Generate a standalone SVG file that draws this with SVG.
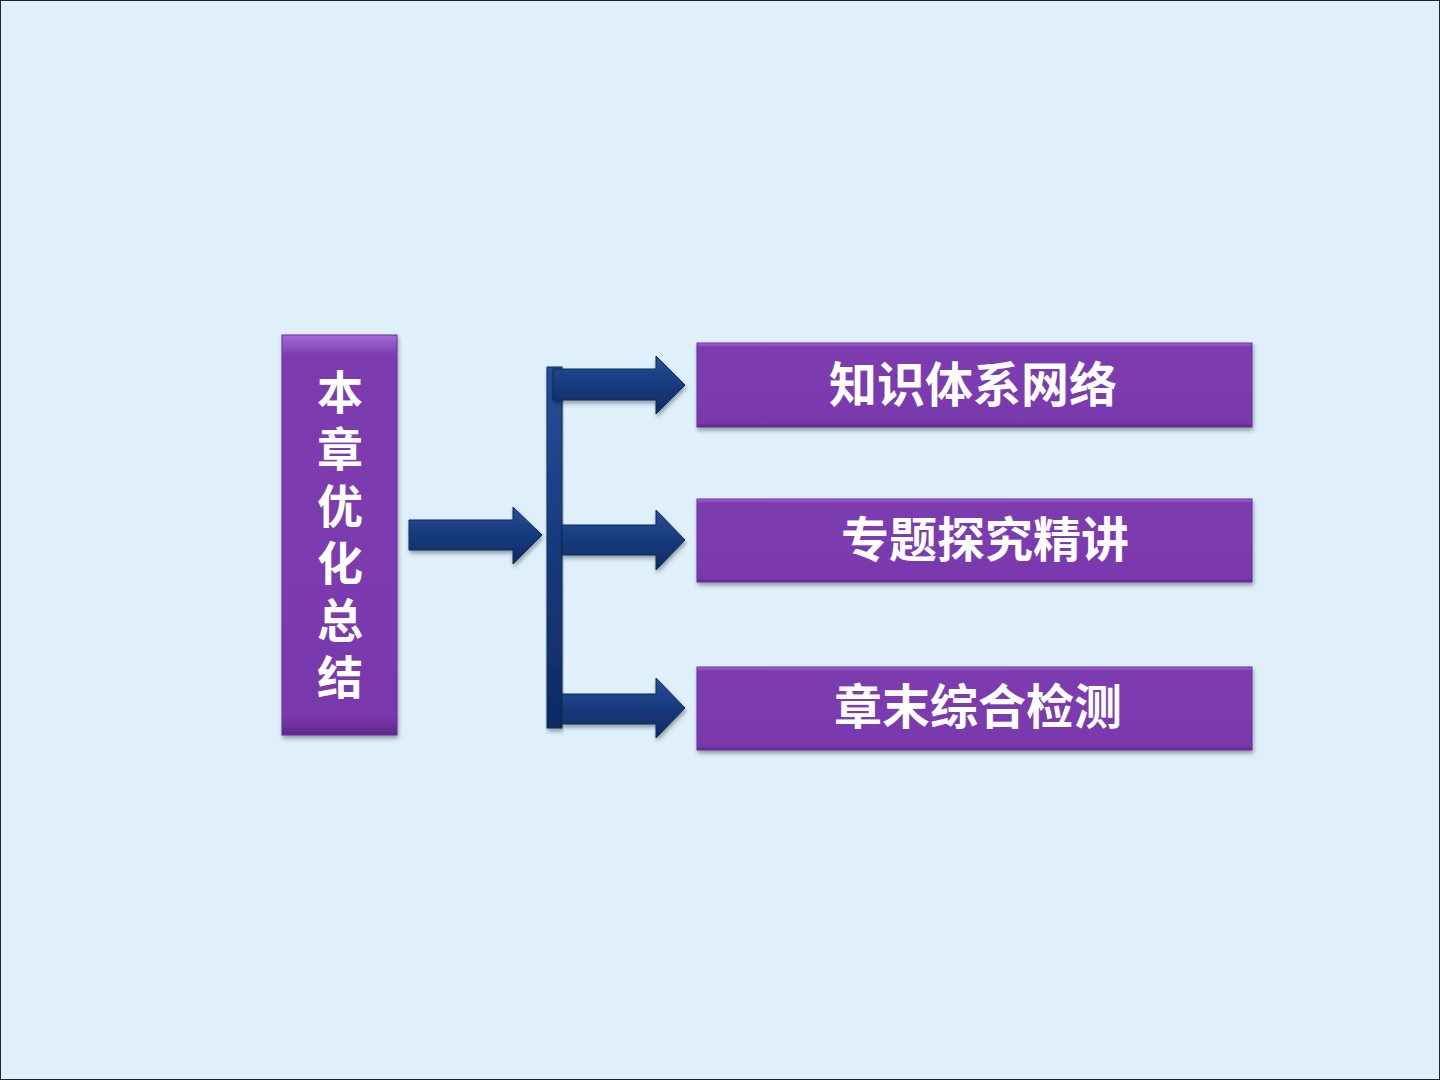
<svg xmlns="http://www.w3.org/2000/svg" width="1440" height="1080" viewBox="0 0 1440 1080">
<defs>
<style>
.box{fill:url(#pg);stroke:#6a2c9c;stroke-width:1;filter:url(#sh)}
.lbl{font-family:"Noto Sans CJK SC","Noto Sans",sans-serif;font-weight:bold;fill:#fff;text-anchor:middle}
.vert{writing-mode:vertical-rl;text-anchor:start;letter-spacing:11px}
.arr{fill:url(#ag);stroke:#0d2a5e;stroke-width:1;filter:url(#sh)}
</style>
<linearGradient id="pg" x1="0" y1="0" x2="0" y2="1">
<stop offset="0" stop-color="#a56bd6"/>
<stop offset="0.05" stop-color="#7d3bb0"/>
<stop offset="0.95" stop-color="#7a39ad"/>
<stop offset="1" stop-color="#5f2a8c"/>
</linearGradient>
<linearGradient id="ag" x1="0" y1="0" x2="0" y2="1">
<stop offset="0" stop-color="#2a4d96"/>
<stop offset="0.5" stop-color="#173a7d"/>
<stop offset="1" stop-color="#0e2a63"/>
</linearGradient>
<filter id="sh" x="-10%" y="-10%" width="120%" height="130%">
<feDropShadow dx="1" dy="3" stdDeviation="2" flood-color="#000" flood-opacity="0.35"/>
</filter>
</defs>
<rect x="0" y="0" width="1440" height="1080" fill="#dff0fa"/>
<rect x="0.5" y="0.5" width="1439" height="1079" fill="none" stroke="#1a2433" stroke-width="1"/>
<g id="connectors">
<path class="arr" d="M409,520 H513 V507 L542,535 L513,564 V550 H409 Z"/>
<rect class="arr" x="547" y="367" width="15" height="361"/>
<path class="arr" d="M553,369 H656 V356 L685,385 L656,414 V400 H553 Z"/>
<path class="arr" d="M562,525 H656 V510 L685,540 L656,570 V555 H562 Z"/>
<path class="arr" d="M562,694 H656 V678 L685,708 L656,738 V724 H562 Z"/>
</g>
<g id="node-left">
<rect class="box" x="282" y="335" width="115" height="400"/>
<text class="lbl vert" font-size="46" x="340" y="369">本章优化总结</text>
</g>
<g id="node-1">
<rect class="box" x="697" y="343" width="555" height="84"/>
<text class="lbl" font-size="48" x="973" y="402">知识体系网络</text>
</g>
<g id="node-2">
<rect class="box" x="697" y="499" width="555" height="83"/>
<text class="lbl" font-size="48" x="985" y="557">专题探究精讲</text>
</g>
<g id="node-3">
<rect class="box" x="697" y="667" width="555" height="83"/>
<text class="lbl" font-size="48" x="978" y="724">章末综合检测</text>
</g>
</svg>
